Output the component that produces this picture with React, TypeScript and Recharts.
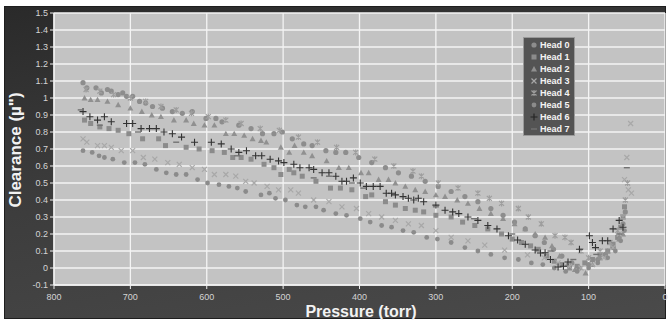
import React from "react";
import { ScatterChart, Scatter, XAxis, YAxis, CartesianGrid } from "recharts";

const seriesNames = ["Head 0", "Head 1", "Head 2", "Head 3", "Head 4", "Head 5", "Head 6", "Head 7"];

const xTicks = [800, 700, 600, 500, 400, 300, 200, 100, 0];
const yTicks = [-0.1, 0, 0.1, 0.2, 0.3, 0.4, 0.5, 0.6, 0.7, 0.8, 0.9, 1, 1.1, 1.2, 1.3, 1.4, 1.5];

// [pressure (torr), clearance]
const head0: number[][] = [
  [762, 1.09], [757, 1.06], [745, 1.06], [738, 1.03], [730, 1.05], [725, 1.04], [716, 1.02], [710, 1.03],
  [705, 1.01], [697, 1.01], [688, 0.98], [680, 0.97], [671, 0.95], [658, 0.94], [645, 0.92], [632, 0.91],
  [619, 0.92], [601, 0.88], [588, 0.88], [580, 0.86], [558, 0.84], [542, 0.82], [527, 0.79], [512, 0.79],
  [501, 0.8], [488, 0.76], [473, 0.73], [462, 0.72], [444, 0.69], [431, 0.68], [418, 0.68], [401, 0.65],
  [384, 0.62], [366, 0.59], [349, 0.56], [332, 0.54], [314, 0.51], [297, 0.48], [280, 0.45], [262, 0.42],
  [245, 0.39], [228, 0.35], [212, 0.31], [197, 0.27], [183, 0.23], [170, 0.19], [158, 0.15], [146, 0.11],
  [135, 0.07], [122, 0.03], [112, 0.0], [100, 0.02], [88, 0.05], [78, 0.08], [68, 0.12], [60, 0.18],
  [55, 0.26], [52, 0.33],
];
const head1: number[][] = [
  [760, 0.87], [752, 0.85], [740, 0.83], [728, 0.82], [716, 0.81], [702, 0.79], [684, 0.76], [663, 0.76],
  [654, 0.72], [627, 0.71], [610, 0.7], [593, 0.69], [577, 0.68], [566, 0.65], [555, 0.65], [542, 0.64],
  [525, 0.61], [512, 0.59], [503, 0.55], [492, 0.58], [486, 0.56], [475, 0.54], [457, 0.51], [438, 0.47],
  [425, 0.47], [410, 0.46], [392, 0.42], [384, 0.43], [366, 0.39], [353, 0.37], [340, 0.35], [327, 0.34],
  [316, 0.33], [300, 0.31], [280, 0.3], [265, 0.27], [249, 0.25], [232, 0.23], [214, 0.2], [200, 0.17],
  [188, 0.15], [176, 0.13], [166, 0.11], [155, 0.07], [145, 0.04], [135, 0.02], [125, 0.0], [115, 0.01],
  [105, 0.03], [95, 0.05], [85, 0.08], [75, 0.1], [68, 0.14], [62, 0.18], [58, 0.24], [55, 0.3], [53, 0.36],
];
const head2: number[][] = [
  [760, 1.0], [752, 0.99], [743, 0.99], [730, 0.98], [716, 0.96], [700, 0.94], [685, 0.92], [672, 0.9],
  [660, 0.89], [643, 0.87], [627, 0.87], [617, 0.85], [603, 0.84], [590, 0.84], [575, 0.79], [564, 0.79],
  [551, 0.78], [540, 0.76], [529, 0.75], [522, 0.74], [503, 0.71], [492, 0.68], [485, 0.72], [473, 0.68],
  [462, 0.66], [443, 0.63], [427, 0.59], [414, 0.59], [398, 0.56], [388, 0.56], [375, 0.52], [362, 0.52],
  [353, 0.5], [340, 0.48], [327, 0.46], [314, 0.45], [300, 0.43], [288, 0.42], [272, 0.4], [258, 0.38],
  [243, 0.35], [228, 0.32], [212, 0.29], [197, 0.26], [183, 0.23], [170, 0.2], [157, 0.18], [148, 0.13],
  [138, 0.07], [128, 0.02], [118, -0.01], [104, -0.03], [95, 0.02], [85, 0.06], [75, 0.1], [68, 0.13],
  [60, 0.17], [55, 0.2],
];
const head3: number[][] = [
  [762, 0.76], [757, 0.74], [743, 0.72], [734, 0.72], [725, 0.71], [712, 0.69], [697, 0.69], [683, 0.65],
  [668, 0.64], [651, 0.62], [636, 0.61], [619, 0.59], [603, 0.58], [590, 0.55], [575, 0.55], [562, 0.54],
  [549, 0.51], [538, 0.5], [521, 0.48], [506, 0.46], [490, 0.46], [480, 0.44], [460, 0.4], [440, 0.39],
  [423, 0.36], [404, 0.35], [388, 0.32], [371, 0.3], [353, 0.28], [336, 0.26], [319, 0.25], [300, 0.22],
  [280, 0.18], [258, 0.16], [236, 0.135], [210, 0.105], [180, 0.077], [158, 0.06], [140, 0.03], [125, 0.01],
  [110, 0.0], [95, 0.02], [80, 0.06], [68, 0.12], [60, 0.2], [53, 0.52], [50, 0.65], [48, 0.46], [44, 0.44],
  [45, 0.85],
];
const head4: number[][] = [
  [758, 1.05], [740, 1.04], [722, 1.02], [700, 1.0], [680, 0.98], [660, 0.95], [640, 0.93], [620, 0.91],
  [598, 0.89], [575, 0.87], [555, 0.85], [530, 0.82], [505, 0.81], [480, 0.77], [455, 0.74], [430, 0.71],
  [405, 0.68], [380, 0.64], [355, 0.6], [330, 0.57], [319, 0.54], [297, 0.5], [271, 0.47], [245, 0.44],
  [230, 0.41], [214, 0.38], [192, 0.35], [179, 0.3], [162, 0.26], [144, 0.19], [131, 0.18], [123, 0.15],
  [110, 0.1], [100, 0.06], [85, 0.1], [72, 0.15], [62, 0.22], [55, 0.3], [52, 0.4], [49, 0.5],
];
const head5: number[][] = [
  [762, 0.69], [750, 0.68], [741, 0.66], [734, 0.65], [723, 0.64], [708, 0.62], [694, 0.62], [681, 0.61],
  [666, 0.58], [653, 0.56], [640, 0.55], [627, 0.55], [612, 0.52], [599, 0.5], [584, 0.49], [571, 0.48],
  [560, 0.47], [549, 0.45], [529, 0.43], [518, 0.44], [510, 0.41], [497, 0.4], [482, 0.37], [471, 0.36],
  [457, 0.36], [447, 0.34], [431, 0.32], [417, 0.31], [399, 0.29], [386, 0.27], [371, 0.25], [358, 0.24],
  [343, 0.22], [329, 0.21], [312, 0.18], [298, 0.17], [280, 0.15], [262, 0.12], [245, 0.1], [228, 0.08],
  [210, 0.06], [192, 0.05], [175, 0.03], [160, 0.02], [145, 0.0], [130, -0.02], [115, -0.02], [100, 0.0],
  [88, 0.03], [75, 0.06], [65, 0.1], [58, 0.16], [53, 0.22],
];
const head6: number[][] = [
  [762, 0.92], [753, 0.89], [743, 0.87], [734, 0.89], [725, 0.86], [705, 0.85], [697, 0.85], [686, 0.82],
  [675, 0.82], [666, 0.82], [656, 0.8], [645, 0.79], [633, 0.77], [616, 0.74], [594, 0.74], [581, 0.73],
  [568, 0.7], [558, 0.68], [548, 0.69], [536, 0.66], [528, 0.66], [517, 0.64], [506, 0.63], [499, 0.62],
  [486, 0.61], [478, 0.59], [466, 0.59], [460, 0.58], [449, 0.56], [440, 0.56], [431, 0.54], [423, 0.51],
  [417, 0.51], [408, 0.53], [399, 0.5], [391, 0.48], [382, 0.48], [373, 0.48], [365, 0.44], [358, 0.44],
  [353, 0.43], [343, 0.42], [336, 0.41], [329, 0.4], [323, 0.41], [316, 0.39], [300, 0.37], [288, 0.34],
  [278, 0.33], [270, 0.32], [258, 0.3], [245, 0.28], [232, 0.25], [220, 0.23], [205, 0.19], [193, 0.165],
  [183, 0.14], [170, 0.106], [163, 0.088], [157, 0.09], [150, 0.05], [140, 0.006], [133, 0.01], [127, 0.035],
  [112, 0.11], [99, 0.19], [95, 0.15], [91, 0.12], [82, 0.16], [75, 0.16], [68, 0.23], [60, 0.28], [55, 0.24],
];
const head7: number[][] = [
  [765, 0.93], [740, 0.84], [690, 0.8], [640, 0.74], [560, 0.66], [460, 0.53], [440, 0.54], [410, 0.5],
  [395, 0.47], [300, 0.36], [250, 0.29], [200, 0.2], [150, 0.1], [120, 0.05], [90, 0.08], [60, 0.2], [50, 0.59],
];

const allSeries = [head0, head1, head2, head3, head4, head5, head6, head7];
const kinds = ["circle", "square", "triangle", "x", "star", "circle2", "plus", "dash"];
const colors = ["#8d8d8d", "#8b8b8b", "#909090", "#a8a8a8", "#9e9e9e", "#8b8b8b", "#333333", "#727272"];

function Mark({ cx, cy, kind, color }: { cx: number; cy: number; kind: string; color: string }) {
  if (cx == null || cy == null) return null;
  switch (kind) {
    case "circle":
      return <circle cx={cx} cy={cy} r={2.6} fill={color} />;
    case "circle2":
      return <circle cx={cx} cy={cy} r={2.4} fill={color} />;
    case "square":
      return <rect x={cx - 2.5} y={cy - 2.5} width={5} height={5} fill={color} />;
    case "triangle":
      return <polygon points={`${cx},${cy - 3} ${cx + 3},${cy + 2.4} ${cx - 3},${cy + 2.4}`} fill={color} />;
    case "x":
      return (
        <path d={`M${cx - 2.5},${cy - 2.5}L${cx + 2.5},${cy + 2.5}M${cx - 2.5},${cy + 2.5}L${cx + 2.5},${cy - 2.5}`} stroke={color} strokeWidth={1.2} />
      );
    case "star":
      return (
        <path
          d={`M${cx - 2.5},${cy - 2.5}L${cx + 2.5},${cy + 2.5}M${cx - 2.5},${cy + 2.5}L${cx + 2.5},${cy - 2.5}M${cx},${cy - 3}L${cx},${cy + 3}`}
          stroke={color}
          strokeWidth={1.2}
        />
      );
    case "plus":
      return <path d={`M${cx - 3.5},${cy}L${cx + 3.5},${cy}M${cx},${cy - 3.5}L${cx},${cy + 3.5}`} stroke={color} strokeWidth={1.1} />;
    case "dash":
      return <path d={`M${cx - 3},${cy}L${cx + 3},${cy}`} stroke={color} strokeWidth={1.4} />;
    default:
      return null;
  }
}

const tickStyle = { fill: "#d4d4d4", fontSize: 9, fontFamily: "Liberation Sans, Arial, sans-serif" };

export default function App() {
  const data = allSeries.map((s) => s.map(([p, c]) => ({ p, c })));
  return (
    <div style={{ position: "fixed", left: 0, top: 0, width: 669, height: 325, background: "#ffffff", overflow: "hidden" }}>
      <div
        style={{
          position: "absolute",
          left: 4,
          top: 6,
          width: 662,
          height: 313,
          background: "linear-gradient(170deg, #2a2a2a 0%, #3c3c3c 45%, #4a4a4a 100%)",
          border: "1px solid #1e1e1e",
          boxSizing: "border-box",
        }}
      />
      <div style={{ position: "absolute", left: 0, top: 0 }}>
        <ScatterChart width={669} height={325} margin={{ top: 13, right: 4, bottom: 0, left: 0 }}>
          <CartesianGrid fill="#c3c3c3" stroke="#f4f4f4" strokeWidth={1.3} horizontalValues={yTicks} verticalValues={xTicks} />
          <XAxis
            type="number"
            dataKey="p"
            domain={[0, 800]}
            reversed
            ticks={xTicks}
            interval={0}
            height={40}
            tickSize={4}
            tickMargin={5}
            tick={tickStyle}
            axisLine={{ stroke: "#f0f0f0", strokeWidth: 1.3 }}
            tickLine={{ stroke: "#f0f0f0" }}
          />
          <YAxis
            type="number"
            dataKey="c"
            domain={[-0.1, 1.5]}
            ticks={yTicks}
            interval={0}
            width={54}
            tickSize={4}
            tickMargin={2}
            tick={tickStyle}
            axisLine={{ stroke: "#f0f0f0", strokeWidth: 1.3 }}
            tickLine={{ stroke: "#f0f0f0" }}
          />
          {data.map((d, i) => (
            <Scatter
              key={seriesNames[i]}
              name={seriesNames[i]}
              data={d}
              isAnimationActive={false}
              shape={(props: any) => <Mark cx={props.cx} cy={props.cy} kind={kinds[i]} color={colors[i]} />}
            />
          ))}
        </ScatterChart>
      </div>
      <div
        style={{
          position: "absolute",
          left: 7,
          top: 150,
          transform: "translate(-50%, -50%) rotate(-90deg)",
          transformOrigin: "center",
          marginLeft: 9,
          color: "#f2f2f2",
          fontFamily: "Liberation Sans, Arial, sans-serif",
          fontWeight: "bold",
          fontSize: 17,
          whiteSpace: "nowrap",
        }}
      >
        Clearance (µ")
      </div>
      <div
        style={{
          position: "absolute",
          left: 361,
          top: 303,
          transform: "translateX(-50%)",
          color: "#f2f2f2",
          fontFamily: "Liberation Sans, Arial, sans-serif",
          fontWeight: "bold",
          fontSize: 16,
          whiteSpace: "nowrap",
        }}
      >
        Pressure (torr)
      </div>
      <div
        style={{
          position: "absolute",
          left: 523,
          top: 37,
          width: 52,
          height: 99,
          background: "#545454",
          border: "1px solid #9a9a9a",
          boxSizing: "border-box",
          paddingTop: 1,
        }}
      >
        {seriesNames.map((n, i) => (
          <div key={n} style={{ display: "flex", alignItems: "center", height: 12, whiteSpace: "nowrap" }}>
            <svg width={16} height={12} style={{ flex: "none" }}>
              <Mark cx={10} cy={6} kind={kinds[i]} color={i === 6 ? "#222" : colors[i]} />
            </svg>
            <span style={{ color: "#f4f4f4", fontFamily: "Liberation Sans, Arial, sans-serif", fontWeight: "bold", fontSize: 9 }}>{n}</span>
          </div>
        ))}
      </div>
    </div>
  );
}
